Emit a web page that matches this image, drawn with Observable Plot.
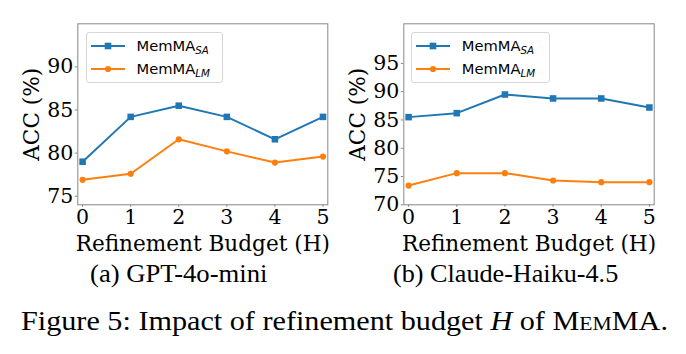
<!DOCTYPE html>
<html>
<head>
<meta charset="utf-8">
<script src="https://cdn.jsdelivr.net/npm/d3@7"></script>
<script src="https://cdn.jsdelivr.net/npm/@observablehq/plot@0.6"></script>
<style>
  html, body { margin: 0; padding: 0; background: #fff; }
  #fig { position: relative; width: 686px; height: 354px; background: #fff; overflow: hidden; }
  #panels { position: absolute; left: 0; top: 0; display: flex; }
  #panels svg, #panels svg text { font-family: "DejaVu Serif", serif !important; }
  .legend {
    position: absolute; box-sizing: border-box;
    border: 1px solid #d6d6d6; border-radius: 3px; background: rgba(255,255,255,0.85);
    font-family: "DejaVu Sans", sans-serif; font-size: 14.7px; color: #000;
  }
  .legend .entry { position: absolute; left: 0; height: 20px; display: flex; align-items: center; white-space: nowrap; }
  .legend svg { display: block; }
  .legend sub { font-size: 10.3px; font-style: italic; vertical-align: -3px; line-height: 0; }
  .cap { position: absolute; font-family: "Liberation Serif", "Times New Roman", serif; color: #000; white-space: nowrap; line-height: 1; transform-origin: 0 0; }
  .cap .sc { font-variant: small-caps; }
</style>
</head>
<body>
<div id="fig">
  <div id="panels"></div>
</div>
<script>
// Refinement budget H on the x axis
const budgets = [0, 1, 2, 3, 4, 5];

// GPT-4o-mini accuracy (%)
const gptSA = [79.0, 84.2, 85.5, 84.2, 81.6, 84.2];
const gptLM = [76.9, 77.6, 81.6, 80.2, 78.9, 79.6];

// Claude-Haiku-4.5 accuracy (%)
const haikuSA = [85.5, 86.2, 89.5, 88.8, 88.8, 87.2];
const haikuLM = [73.4, 75.6, 75.6, 74.3, 74.0, 74.0];

// y-axis ticks per panel
const gptTicks = [75, 80, 85, 90];
const haikuTicks = [70, 75, 80, 85, 90, 95];

const seriesNames = ["SA", "LM"];
const subcaptions = ["(a) GPT-4o-mini", "(b) Claude-Haiku-4.5"];

const BLUE = "#1f77b4", ORANGE = "#ff7f0e", SPINE = "#888";
const SERIF = "DejaVu Serif";

function panel({sa, lm, yDomain, yTicks, marginLeft, marginRight}) {
  return Plot.plot({
    width: 343,
    height: 260,
    marginLeft,
    marginRight,
    marginTop: 23.3,
    marginBottom: 55.7,
    style: {fontFamily: SERIF, fontSize: "20.5px", color: "#000", background: "#fff"},
    x: {type: "linear", domain: [-0.1, 5.1]},
    y: {domain: yDomain},
    marks: [
      Plot.frame({stroke: SPINE, strokeWidth: 1}),
      // tick marks and tick labels
      Plot.axisX({
        ticks: budgets, tickFormat: d3.format("d"), tickSize: 2.5, tickPadding: 2.2,
        stroke: SPINE, fontSize: 20.5, fontFamily: SERIF, label: null
      }),
      Plot.axisY({
        ticks: yTicks, tickSize: 2.5, tickPadding: 2, stroke: SPINE, fontSize: 20.5,
        fontFamily: SERIF, label: null
      }),
      // axis titles, set a little larger than the tick labels
      Plot.axisX({
        ticks: [], tickSize: 0, fontSize: 21.6, fontFamily: SERIF, label: "Refinement Budget (H)",
        labelAnchor: "center", labelArrow: "none", labelOffset: 46.5
      }),
      Plot.axisY({
        ticks: [], tickSize: 0, fontSize: 21.6, fontFamily: SERIF, label: "ACC (%)",
        labelAnchor: "center", labelArrow: "none", labelOffset: 54
      }),
      Plot.line(budgets, {x: budgets, y: sa, stroke: BLUE, strokeWidth: 2}),
      Plot.dot(budgets, {x: budgets, y: sa, symbol: "square", fill: BLUE, r: 3.7}),
      Plot.line(budgets, {x: budgets, y: lm, stroke: ORANGE, strokeWidth: 2}),
      Plot.dot(budgets, {x: budgets, y: lm, symbol: "circle", fill: ORANGE, r: 3.1})
    ]
  });
}

const panels = document.getElementById("panels");
panels.append(
  panel({sa: gptSA, lm: gptLM, yDomain: [74, 95], yTicks: gptTicks, marginLeft: 77.3, marginRight: 15.7}),
  panel({sa: haikuSA, lm: haikuLM, yDomain: [70, 102], yTicks: haikuTicks, marginLeft: 60.3, marginRight: 32.3})
);

// Legend swatch: short line with its marker
function swatch(color, symbol) {
  const w = 34, h = 20;
  const marker = symbol === "square"
    ? `<rect x="${w / 2 - 3.3}" y="${h / 2 - 3.3}" width="6.6" height="6.6" fill="${color}"/>`
    : `<circle cx="${w / 2}" cy="${h / 2}" r="3.1" fill="${color}"/>`;
  return `<svg width="${w}" height="${h}"><line x1="0" x2="${w}" y1="${h / 2}" y2="${h / 2}" stroke="${color}" stroke-width="2"/>${marker}</svg>`;
}

const fig = document.getElementById("fig");
function legend(left, top, width) {
  const box = document.createElement("div");
  box.className = "legend";
  Object.assign(box.style, {left: left + "px", top: top + "px", width: width + "px", height: "51px"});
  const entries = [[BLUE, "square", seriesNames[0], 3], [ORANGE, "circle", seriesNames[1], 26]];
  for (const [color, sym, name, y] of entries) {
    const e = document.createElement("div");
    e.className = "entry";
    Object.assign(e.style, {top: y + "px", left: "4px"});
    e.innerHTML = swatch(color, sym) + `<span style="margin-left:11.5px">MemMA<sub>${name}</sub></span>`;
    box.append(e);
  }
  fig.append(box);
}
legend(86, 31.7, 137);
legend(411.3, 31.7, 138.4);

// Captions, stretched horizontally to their typeset width
function caption(html, left, right, baseline, size) {
  const d = document.createElement("div");
  d.className = "cap";
  d.innerHTML = html;
  d.style.fontSize = size + "px";
  d.style.top = (baseline - 0.8375 * size) + "px";
  d.style.left = left + "px";
  fig.append(d);
  d.style.transform = `scaleX(${(right - left) / d.offsetWidth})`;
}
caption(subcaptions[0], 90, 267, 282, 25);
caption(subcaptions[1], 393, 618, 282, 25);
caption('Figure 5: Impact of refinement budget <i>H</i> of <span class="sc">MemMA</span>.', 21, 668, 330, 26.5);
</script>
</body>
</html>
